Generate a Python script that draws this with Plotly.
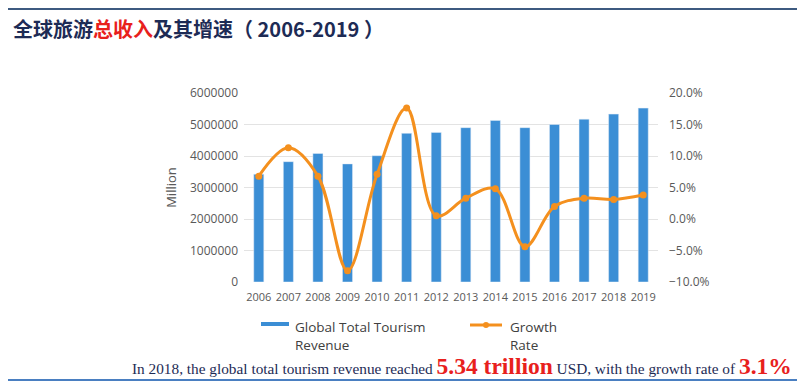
import plotly.graph_objects as go

years = ["2006", "2007", "2008", "2009", "2010", "2011", "2012", "2013", "2014", "2015", "2016", "2017", "2018", "2019"]
revenue = [3420000, 3820000, 4080000, 3750000, 4010000, 4720000, 4750000, 4900000, 5130000, 4900000, 5000000, 5170000, 5330000, 5520000]
growth = [0.068, 0.113, 0.068, -0.082, 0.071, 0.176, 0.005, 0.033, 0.048, -0.044, 0.020, 0.033, 0.031, 0.038]

left_ticks = [0, 1000000, 2000000, 3000000, 4000000, 5000000, 6000000]
right_ticks = [-0.10, -0.05, 0.0, 0.05, 0.10, 0.15, 0.20]

BLUE = "#3b8ed5"
ORANGE = "#f4901e"
YTICKFONT = dict(family="Open Sans, Noto Sans, sans-serif", size=12, color="#595959")
XTICKFONT = dict(family="Open Sans, Noto Sans, sans-serif", size=11, color="#595959")

OFF = 8  # page body margin
# desired plot area in page pixels
P_LEFT, P_RIGHT, P_TOP, P_BOTTOM = 244, 658, 93, 282
W, H = 805, 383
L = P_LEFT - OFF
R = W - (P_RIGHT - OFF)
T = P_TOP - OFF
B = H - (P_BOTTOM - OFF)
PW, PH = W - L - R, H - T - B

def px_x(x):
    return (x - OFF - L) / PW

def px_y(y):
    return (H - B - (y - OFF)) / PH

fig = go.Figure()
fig.add_trace(go.Bar(x=years, y=revenue, marker_color=BLUE, name="Global Total Tourism Revenue",
                     yaxis="y", showlegend=False))
fig.add_trace(go.Scatter(x=years, y=growth, mode="lines+markers", line=dict(color=ORANGE, width=3, shape="spline", smoothing=1.0),
                         marker=dict(color=ORANGE, size=7), name="Growth Rate", yaxis="y2", showlegend=False))

fig.update_layout(
    width=W, height=H, autosize=False,
    margin=dict(l=L, r=R, t=T, b=B, autoexpand=False),
    paper_bgcolor="white", plot_bgcolor="white",
    bargap=0.66,
    xaxis=dict(type="category", range=[-0.5, len(years) - 0.5], tickfont=XTICKFONT, showgrid=False,
               showline=False, ticks="", automargin=False, ticklabelstandoff=7),
    yaxis=dict(range=[0, 6000000], tickvals=left_ticks, tickformat="d", tickfont=YTICKFONT, automargin=False,
               showgrid=True, gridcolor="#e3e3e3", gridwidth=1, zeroline=False, ticklabelstandoff=5,
               title=dict(text="Million", font=dict(family="Open Sans, sans-serif", size=13, color="#595959"), standoff=10)),
    yaxis2=dict(range=[-0.10, 0.20], tickvals=right_ticks, tickformat=".1%", tickfont=YTICKFONT, automargin=False,
                overlaying="y", side="right", showgrid=False, zeroline=False, ticklabelstandoff=10),
    font=dict(family="Open Sans, sans-serif"),
)

# Title
fig.add_annotation(xref="paper", yref="paper", x=px_x(11), y=px_y(28), xanchor="left", yanchor="middle",
                   showarrow=False,
                   text="<b>全球旅游<span style='color:#e8201c'>总收入</span>及其增速（ 2006-2019 ）</b>",
                   font=dict(family="Noto Sans CJK SC, sans-serif", size=20, color="#1d2b55"))

# Border lines
fig.add_shape(type="line", xref="paper", yref="paper", x0=px_x(0), x1=px_x(813), y0=px_y(9), y1=px_y(9),
              line=dict(color="#3d5a80", width=2))
fig.add_shape(type="line", xref="paper", yref="paper", x0=px_x(0), x1=px_x(813), y0=px_y(380), y1=px_y(380),
              line=dict(color="#4a7fc1", width=2))

# Manual legend
fig.add_shape(type="line", xref="paper", yref="paper", x0=px_x(261), x1=px_x(289), y0=px_y(324), y1=px_y(324),
              line=dict(color=BLUE, width=4))
fig.add_annotation(xref="paper", yref="paper", x=px_x(294), y=px_y(317), xanchor="left", yanchor="top", showarrow=False,
                   align="left", text="Global Total Tourism<br>Revenue", borderpad=0,
                   font=dict(family="Open Sans, sans-serif", size=13.5, color="#404040"))
fig.add_shape(type="line", xref="paper", yref="paper", x0=px_x(470), x1=px_x(502), y0=px_y(325), y1=px_y(325),
              line=dict(color=ORANGE, width=3))
fig.add_shape(type="circle", xref="paper", yref="paper", x0=px_x(483), x1=px_x(489), y0=px_y(322), y1=px_y(328),
              line=dict(color=ORANGE, width=0), fillcolor=ORANGE)
fig.add_annotation(xref="paper", yref="paper", x=px_x(509), y=px_y(317), xanchor="left", yanchor="top", showarrow=False,
                   align="left", text="Growth<br>Rate", borderpad=0,
                   font=dict(family="Open Sans, sans-serif", size=13.5, color="#404040"))

# Bottom caption
fig.add_annotation(xref="paper", yref="paper", x=px_x(131), y=px_y(366), xanchor="left", yanchor="middle", showarrow=False,
                   borderpad=0,
                   text="In 2018, the global total tourism revenue reached "
                        "<span style='color:#e8201c;font-size:23.5px'><b>5.34 trillion</b></span> USD, with the growth rate of "
                        "<span style='color:#e8201c;font-size:23.5px'><b>3.1%</b></span>",
                   font=dict(family="Liberation Serif, Times New Roman, serif", size=15.3, color="#1d2b55"))

fig.write_html("out.html")
